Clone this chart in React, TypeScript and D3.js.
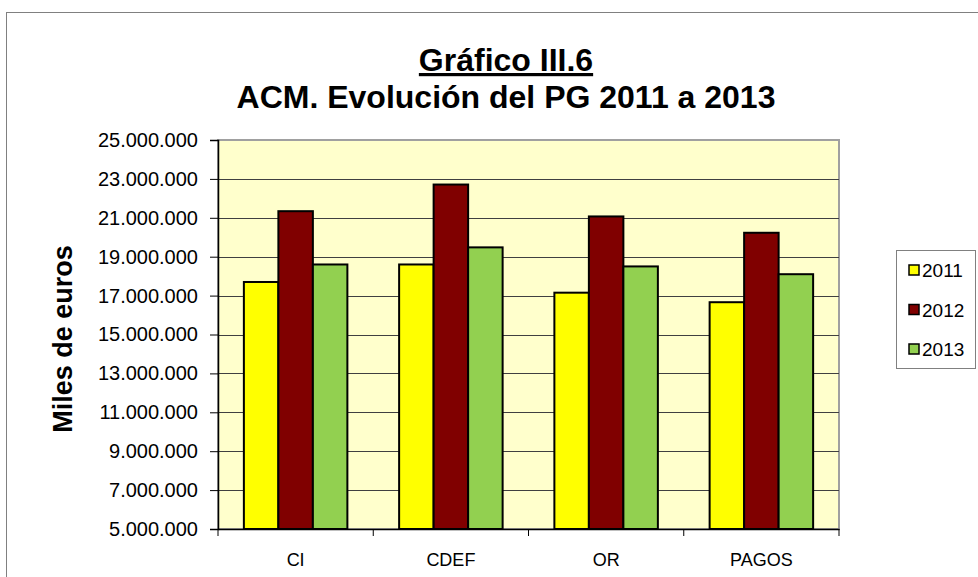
import { useEffect, useRef } from "react";
import * as d3 from "d3";

const categories = ["CI", "CDEF", "OR", "PAGOS"];
const years = ["2011", "2012", "2013"];
const values2011 = [17700000, 18600000, 17150000, 16660000];
const values2012 = [21340000, 22710000, 21070000, 20230000];
const values2013 = [18600000, 19480000, 18500000, 18100000];
const yTicks = [5000000, 7000000, 9000000, 11000000, 13000000, 15000000, 17000000, 19000000, 21000000, 23000000, 25000000];
const colors = ["#FFFF00", "#800000", "#92D050"];

export default function App() {
  const svgRef = useRef<SVGSVGElement | null>(null);

  useEffect(() => {
    if (!svgRef.current) return;
    const svg = d3.select(svgRef.current);
    svg.selectAll("*").remove();

    const width = 978;
    const height = 577;
    const plot = { left: 218, right: 839, top: 140, bottom: 529 };
    const font = "'Liberation Sans', Arial, sans-serif";

    // outer chart frame
    svg
      .append("rect")
      .attr("x", 6.5)
      .attr("y", 12.5)
      .attr("width", 1000)
      .attr("height", 700)
      .attr("fill", "white")
      .attr("stroke", "#808080");

    const series = [values2011, values2012, values2013];

    const x0 = d3
      .scaleBand<string>()
      .domain(categories)
      .range([plot.left, plot.right])
      .paddingInner(1 / 3)
      .paddingOuter(1 / 6);
    const x1 = d3.scaleBand<string>().domain(years).range([0, x0.bandwidth()]);
    const y = d3.scaleLinear().domain([5000000, 25000000]).range([plot.bottom, plot.top]);

    // plot background
    svg
      .append("rect")
      .attr("x", plot.left)
      .attr("y", plot.top)
      .attr("width", plot.right - plot.left)
      .attr("height", plot.bottom - plot.top)
      .attr("fill", "#FFFFCC")
      .attr("stroke", "#A0A0A0")
      .attr("stroke-width", 2);

    // gridlines
    svg
      .append("g")
      .selectAll("line")
      .data(yTicks.slice(1, -1))
      .enter()
      .append("line")
      .attr("x1", plot.left)
      .attr("x2", plot.right)
      .attr("y1", (d) => Math.round(y(d)) + 0.5)
      .attr("y2", (d) => Math.round(y(d)) + 0.5)
      .attr("stroke", "#404040")
      .attr("stroke-width", 1);

    // bars
    const groups = svg
      .append("g")
      .selectAll("g")
      .data(categories)
      .enter()
      .append("g")
      .attr("transform", (c) => `translate(${x0(c)},0)`);

    groups
      .selectAll("rect")
      .data((_, i) => years.map((yr, k) => ({ yr, k, v: series[k][i] })))
      .enter()
      .append("rect")
      .attr("x", (d) => x1(d.yr)!)
      .attr("y", (d) => y(d.v))
      .attr("width", x1.bandwidth())
      .attr("height", (d) => plot.bottom - y(d.v))
      .attr("fill", (d) => colors[d.k])
      .attr("stroke", "black")
      .attr("stroke-width", 2);

    // y axis
    const yAxis = svg
      .append("g")
      .attr("transform", `translate(${plot.left},0)`)
      .call(
        d3
          .axisLeft(y)
          .tickValues(yTicks)
          .tickSize(8)
          .tickPadding(12)
          .tickFormat((d) => d3.format(",")(d as number).replace(/,/g, "."))
      );
    yAxis.select(".domain").attr("stroke", "black").attr("stroke-width", 1.5);
    yAxis.selectAll(".tick line").attr("stroke", "black");
    yAxis
      .selectAll(".tick text")
      .attr("fill", "black")
      .style("font-family", font)
      .style("font-size", "20px");

    // x axis
    const xAxis = svg
      .append("g")
      .attr("transform", `translate(0,${plot.bottom})`)
      .call(d3.axisBottom(x0).tickSize(0).tickPadding(24));
    xAxis.select(".domain").attr("stroke", "black").attr("stroke-width", 1.5);
    xAxis
      .selectAll(".tick text")
      .attr("fill", "black")
      .style("font-family", font)
      .style("font-size", "18px");

    // category separators
    const step = x0.step();
    svg
      .append("g")
      .selectAll("line")
      .data(d3.range(categories.length + 1))
      .enter()
      .append("line")
      .attr("x1", (i) => plot.left + i * step)
      .attr("x2", (i) => plot.left + i * step)
      .attr("y1", plot.bottom)
      .attr("y2", plot.bottom + 7)
      .attr("stroke", "black");

    // y axis title
    svg
      .append("text")
      .attr("transform", `translate(72,339) rotate(-90)`)
      .attr("text-anchor", "middle")
      .style("font-family", font)
      .style("font-size", "27px")
      .style("font-weight", "bold")
      .text("Miles de euros");

    // title
    svg
      .append("text")
      .attr("x", 506)
      .attr("y", 71)
      .attr("text-anchor", "middle")
      .style("font-family", font)
      .style("font-size", "32px")
      .style("font-weight", "bold")
      .style("text-decoration", "underline")
      .text("Gráfico III.6");
    svg
      .append("text")
      .attr("x", 506)
      .attr("y", 108)
      .attr("text-anchor", "middle")
      .style("font-family", font)
      .style("font-size", "32px")
      .style("font-weight", "bold")
      .text("ACM. Evolución del PG 2011 a 2013");

    // legend
    const legend = svg.append("g");
    legend
      .append("rect")
      .attr("x", 896.5)
      .attr("y", 250.5)
      .attr("width", 79)
      .attr("height", 118)
      .attr("fill", "white")
      .attr("stroke", "#808080");
    const items = legend
      .selectAll("g")
      .data(years)
      .enter()
      .append("g")
      .attr("transform", (_, i) => `translate(0,${270 + i * 39.5})`);
    items
      .append("rect")
      .attr("x", 909)
      .attr("y", -5)
      .attr("width", 10)
      .attr("height", 10)
      .attr("fill", (_, i) => colors[i])
      .attr("stroke", "black")
      .attr("stroke-width", 1.5);
    items
      .append("text")
      .attr("x", 922)
      .attr("y", 7)
      .style("font-family", font)
      .style("font-size", "19px")
      .text((d) => d);

    svg.attr("width", width).attr("height", height);
  }, []);

  return (
    <svg
      ref={svgRef}
      width={978}
      height={577}
      style={{ position: "absolute", left: 0, top: 0, display: "block" }}
    ></svg>
  );
}
